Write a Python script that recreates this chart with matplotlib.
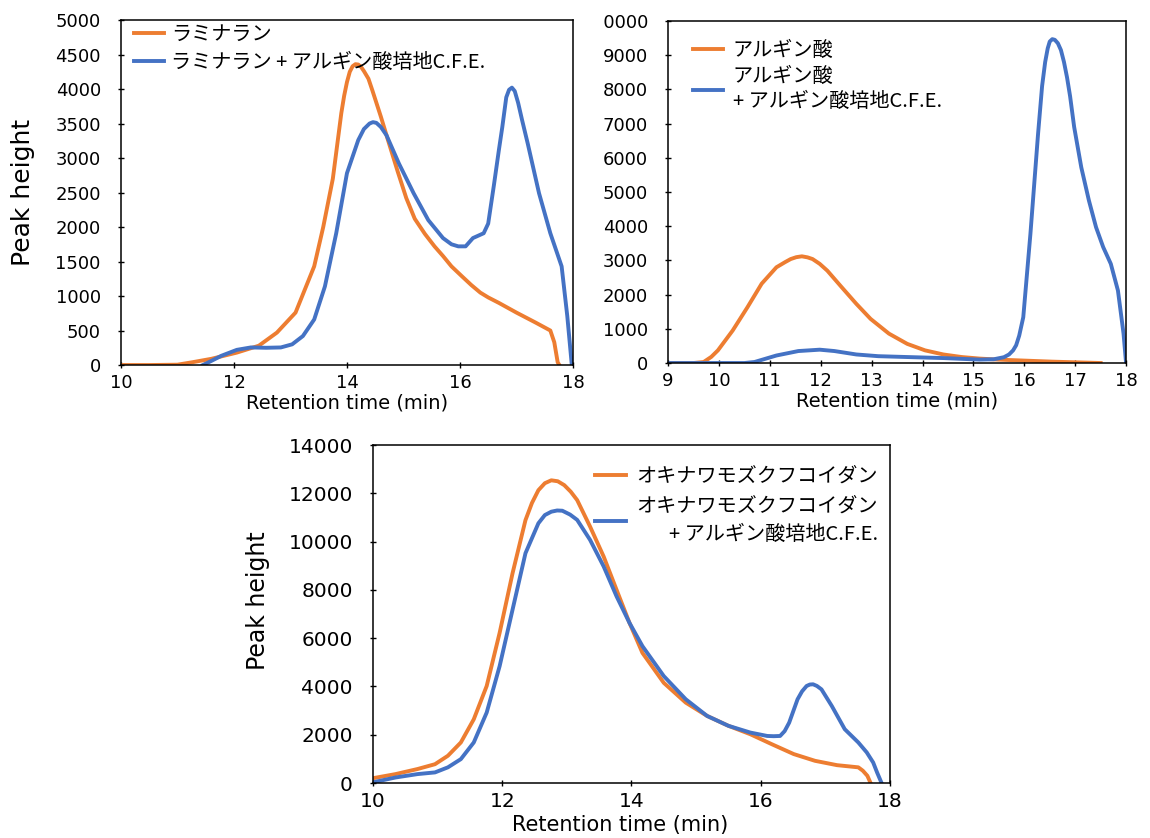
import matplotlib
matplotlib.use("Agg")
import matplotlib.pyplot as plt
from matplotlib.transforms import Bbox

plt.rcParams['font.family'] = ['DejaVu Sans', 'Noto Sans CJK JP']

ORANGE = "#ED7D31"
BLUE = "#4472C4"

# --- panel 1: ラミナラン ---
lam_t = [10.0, 10.5, 11.0, 11.26, 11.6, 12.05, 12.44, 12.76, 13.09, 13.42, 13.58, 13.75,
         13.9, 13.95, 14.0, 14.05, 14.1, 14.15, 14.2, 14.25, 14.3, 14.38, 14.45, 14.6,
         14.73, 14.9, 15.05, 15.2, 15.38, 15.55, 15.7, 15.85, 16.03, 16.2, 16.36, 16.5,
         16.69, 17.0, 17.34, 17.6, 17.67, 17.73, 17.76]
lam_y = [0, 0, 5, 40, 90, 180, 280, 470, 760, 1430, 2000, 2700,
         3650, 3900, 4100, 4250, 4330, 4360, 4355, 4320, 4260, 4150, 3980, 3600,
         3250, 2800, 2420, 2120, 1900, 1720, 1580, 1430, 1290, 1160, 1050, 980,
         900, 760, 615, 500, 330, 40, 0]
lam_cfe_t = [11.45, 11.6, 11.78, 12.05, 12.3, 12.57, 12.83, 13.03, 13.22, 13.42, 13.61, 13.81,
             14.0, 14.2, 14.3, 14.4, 14.46, 14.52, 14.6, 14.7, 14.92, 15.18, 15.44, 15.7,
             15.85, 15.97, 16.1, 16.23, 16.42, 16.5, 16.6, 16.69, 16.75, 16.82, 16.87, 16.92,
             16.97, 17.03, 17.1, 17.2, 17.4, 17.6, 17.8, 17.9, 17.98]
lam_cfe_y = [0, 60, 135, 220, 255, 250, 255, 300, 420, 660, 1140, 1910,
             2780, 3260, 3420, 3500, 3520, 3510, 3450, 3330, 2920, 2490, 2100, 1840,
             1750, 1720, 1720, 1840, 1910, 2050, 2600, 3120, 3450, 3880, 3990, 4020,
             3970, 3800, 3550, 3210, 2490, 1910, 1430, 710, 0]

# --- panel 2: アルギン酸 ---
alg_t = [9.0, 9.5, 9.7, 9.85, 9.98, 10.27, 10.56, 10.84, 11.13, 11.3, 11.41, 11.52, 11.63,
         11.74, 11.84, 11.98, 12.13, 12.41, 12.7, 12.98, 13.34, 13.7, 14.05, 14.41, 14.77,
         15.12, 15.48, 15.84, 16.55, 17.27, 17.5]
alg_y = [0, 0, 30, 180, 370, 950, 1630, 2320, 2800, 2950, 3040, 3095, 3120,
         3090, 3040, 2900, 2700, 2220, 1730, 1290, 860, 560, 370, 250, 175,
         130, 100, 80, 40, 10, 0]
alg_cfe_t = [9.0, 10.5, 10.7, 11.13, 11.56, 11.98, 12.27, 12.7, 13.13, 13.7, 14.41, 15.12,
             15.4, 15.6, 15.7, 15.78, 15.84, 15.9, 15.98, 16.12, 16.27, 16.35, 16.41, 16.46,
             16.5, 16.55, 16.6, 16.66, 16.72, 16.78, 16.84, 16.9, 16.98, 17.12, 17.27, 17.41,
             17.55, 17.7, 17.84, 17.95, 18.0]
alg_cfe_y = [0, 0, 30, 220, 350, 390, 350, 250, 200, 175, 145, 100,
             110, 170, 250, 370, 520, 800, 1340, 3770, 6690, 8100, 8800, 9200,
             9400, 9470, 9450, 9350, 9150, 8800, 8350, 7800, 6900, 5720, 4750, 3970,
             3390, 2900, 2120, 860, 0]

# --- panel 3: オキナワモズクフコイダン ---
fuc_t = [10.0, 10.35, 10.69, 10.96, 11.16, 11.36, 11.56, 11.76, 11.96, 12.16, 12.36, 12.46,
         12.56, 12.66, 12.76, 12.86, 12.96, 13.06, 13.16, 13.36, 13.57, 13.77, 13.97, 14.17,
         14.5, 14.84, 15.17, 15.5, 15.84, 16.17, 16.51, 16.84, 17.18, 17.51, 17.58, 17.65,
         17.7]
fuc_y = [200, 370, 580, 780, 1130, 1680, 2640, 4020, 6220, 8690, 10890, 11600,
         12130, 12420, 12540, 12500, 12340, 12070, 11720, 10620, 9380, 8000, 6630, 5390,
         4150, 3330, 2780, 2370, 2020, 1610, 1200, 920, 740, 650, 510, 300,
         0]
fuc_cfe_t = [10.0, 10.35, 10.69, 10.96, 11.16, 11.36, 11.56, 11.76, 11.96, 12.16, 12.36, 12.56,
             12.66, 12.76, 12.85, 12.93, 13.05, 13.16, 13.36, 13.57, 13.77, 13.97, 14.17, 14.5,
             14.84, 15.17, 15.5, 15.84, 16.1, 16.2, 16.3, 16.37, 16.44, 16.57, 16.64, 16.71,
             16.76, 16.81, 16.87, 16.94, 17.1, 17.3, 17.51, 17.64, 17.74, 17.8, 17.87]
fuc_cfe_y = [30, 230, 370, 440, 650, 990, 1680, 2920, 4840, 7180, 9520, 10760,
             11100, 11240, 11290, 11280, 11120, 10900, 10070, 8970, 7730, 6630, 5670, 4430,
             3470, 2780, 2370, 2090, 1950, 1940, 1950, 2150, 2500, 3470, 3800, 4020,
             4080, 4090, 4020, 3880, 3190, 2230, 1680, 1270, 850, 440, 0]

lam_labels = ["ラミナラン", "ラミナラン + アルギン酸培地C.F.E."]
alg_labels = ["アルギン酸", "アルギン酸\n+ アルギン酸培地C.F.E."]
fuc_labels = ["オキナワモズクフコイダン", "オキナワモズクフコイダン\n+ アルギン酸培地C.F.E."]

XLABEL = "Retention time (min)"
YLABEL = "Peak height"
LEGEND_FONT = {"family": "Noto Sans CJK JP", "size": 14.5}


def panel(ax, t1, y1, t2, y2, labels, xlim, xticks, ylim, yticks, fs):
    ax.plot(t1, y1, color=ORANGE, lw=2.8, label=labels[0], solid_joinstyle="round")
    ax.plot(t2, y2, color=BLUE, lw=2.8, label=labels[1], solid_joinstyle="round")
    ax.set_xlim(*xlim)
    ax.set_ylim(*ylim)
    ax.set_xticks(xticks)
    ax.set_yticks(yticks)
    ax.tick_params(axis="both", direction="inout", length=5, width=1, labelsize=fs)
    ax.tick_params(axis="y", pad=12)
    ax.tick_params(axis="x", pad=4)
    for s in ax.spines.values():
        s.set_linewidth(1.1)
    ax.set_xlabel(XLABEL, fontsize=14, labelpad=0)


fig = plt.figure(figsize=(11.5, 8.38), dpi=100)

ax1 = fig.add_axes([0.1052, 0.5644, 0.3930, 0.4117])
panel(ax1, lam_t, lam_y, lam_cfe_t, lam_cfe_y, lam_labels, (10, 18), range(10, 19, 2),
      (0, 5000), range(0, 5001, 500), 13)
ax1.set_ylabel(YLABEL, fontsize=18)
ax1.yaxis.set_label_coords(-0.19, 0.5)
ax1.xaxis.set_label_coords(0.5, -0.083)
leg1 = ax1.legend(loc="upper left", bbox_to_anchor=(0.02, 1.0), frameon=False,
                  prop=LEGEND_FONT, handlelength=1.5, handletextpad=0.35,
                  labelspacing=0.35, borderpad=0.2, borderaxespad=0)

ax2 = fig.add_axes([0.5809, 0.5668, 0.3983, 0.4081])
panel(ax2, alg_t, alg_y, alg_cfe_t, alg_cfe_y, alg_labels, (9, 18), range(9, 19),
      (0, 10000), range(0, 10001, 1000), 13)
ax2.xaxis.set_label_coords(0.5, -0.084)
leg2 = ax2.legend(loc="upper left", bbox_to_anchor=(0.045, 0.957), frameon=False,
                  prop=LEGEND_FONT, handlelength=1.5, handletextpad=0.5,
                  labelspacing=0.25, borderpad=0.2, borderaxespad=0)
for txt in leg2.get_texts():
    txt.set_linespacing(1.25)

ax3 = fig.add_axes([0.3243, 0.0656, 0.4496, 0.4033])
panel(ax3, fuc_t, fuc_y, fuc_cfe_t, fuc_cfe_y, fuc_labels, (10, 18), range(10, 19, 2),
      (0, 14000), range(0, 14001, 2000), 14.5)
ax3.set_ylabel(YLABEL, fontsize=17)
ax3.yaxis.set_label_coords(-0.2, 0.54)
ax3.xaxis.set_label_coords(0.478, -0.095)
ax3.xaxis.label.set_fontsize(15)
leg3 = ax3.legend(loc="upper right", bbox_to_anchor=(0.985, 0.95), frameon=False,
                  prop=LEGEND_FONT, handlelength=1.5, handletextpad=0.55,
                  labelspacing=0.45, borderpad=0.2, borderaxespad=0)
for txt in leg3.get_texts():
    txt.set_multialignment("right")
    txt.set_linespacing(1.4)

# the leading "1" of 10000 is cut off in the source image
fig.canvas.draw()
top = ax2.get_yticklabels()[-1]
bb = top.get_window_extent()
cut = Bbox.from_extents(bb.x0 + bb.width / 5 + 1, 0, fig.bbox.width, fig.bbox.height)
for lbl in ax2.get_yticklabels():
    lbl.set_clip_on(True)
    lbl.set_clip_box(cut)

fig.savefig("out.png", dpi=100)
